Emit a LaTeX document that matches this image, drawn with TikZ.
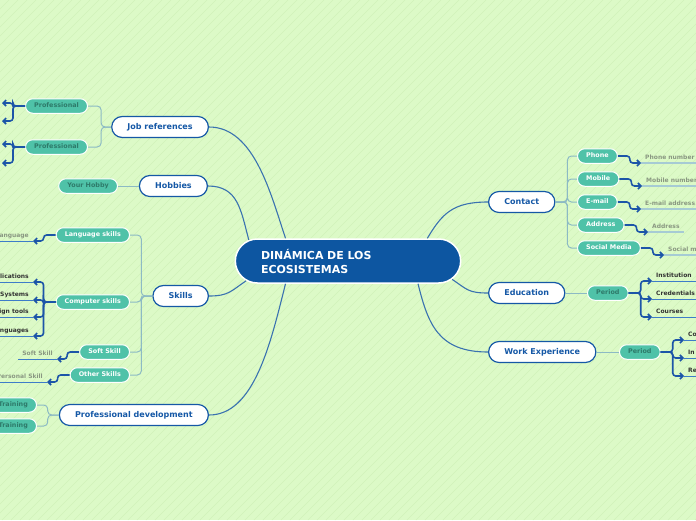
\documentclass[tikz,border=0pt]{standalone}
\usepackage{fontspec}
\setmainfont{DejaVu Sans}
\usetikzlibrary{shapes.misc,arrows.meta}

\definecolor{bggreen}{HTML}{DCFAC7}
\definecolor{stripegreen}{HTML}{D0F2BA}
\definecolor{mainblue}{HTML}{0D56A1}
\definecolor{topicblue}{HTML}{1558A6}
\definecolor{curveblue}{HTML}{3A72B0}
\definecolor{tealfill}{HTML}{4FC2A8}
\definecolor{tealtext}{HTML}{2E7A6A}
\definecolor{lightlink}{HTML}{8CBAC4}
\definecolor{arrowblue}{HTML}{1C55A8}
\definecolor{greytext}{HTML}{8A9882}
\definecolor{darktext}{HTML}{333333}
\definecolor{paleline}{HTML}{A6CBD4}
\definecolor{blueline}{HTML}{3D7CC9}

\begin{document}
\begin{tikzpicture}[
	x=1pt, y=-1pt,
	central/.style={ rounded rectangle, draw=white, line width=1.5pt, fill=mainblue, text=white, font=\fontsize{11}{14}\selectfont\bfseries, minimum width=232, minimum height=44, text width=174, align=left },
	topic/.style={ rounded rectangle, draw=topicblue, line width=1.2pt, fill=white, text=topicblue, font=\fontsize{8}{9}\selectfont\bfseries, minimum height=21, inner xsep=15, text height=6, text depth=1.6 },
	sub/.style={ rounded rectangle, draw=white, line width=1pt, fill=tealfill, text=white, font=\fontsize{6.4}{7}\selectfont\bfseries, minimum height=14.5, inner xsep=8, text height=4.8, text depth=1.3 },
	subdark/.style={ sub, text=tealtext },
	childgrey/.style={ text=greytext, font=\fontsize{6}{7}\selectfont\bfseries, inner xsep=4, inner ysep=2, text depth=1.5 },
	childdark/.style={ childgrey, text=darktext },
	rightdark/.style={ childdark, text width=40 },
	mainlink/.style={ draw=curveblue, line width=1.1pt },
	sublink/.style={ draw=lightlink, line width=1pt, rounded corners=4pt },
	leaflink/.style={ draw=arrowblue, line width=1.6pt, rounded corners=3pt, -{Straight Barb[length=3pt,width=6pt]} },
	paleunder/.style={ draw=paleline, line width=1.8pt },
	blueunder/.style={ draw=blueline, line width=1pt }
]

\useasboundingbox (0,0) rectangle (696,520);
\clip (0,0) rectangle (696,520);
\fill[bggreen] (0,0) rectangle (696,520);
\foreach \i in {0,9,...,1224} \draw[stripegreen, line width=0.6pt] (\i-520,520) -- (\i,0);

% centre and main topics
\node at (348,261) (main) [central] {DINÁMICA DE LOS\\ECOSISTEMAS};

\node at (209,127) (jobref) [topic, anchor=east] {Job references};
\node at (208,186) (hobbies) [topic, anchor=east] {Hobbies};
\node at (209,296) (skills) [topic, anchor=east] {Skills};
\node at (209,415) (profdev) [topic, anchor=east] {Professional development};
\node at (488,202) (contact) [topic, anchor=west] {Contact};
\node at (488,293) (education) [topic, anchor=west] {Education};
\node at (488,352) (work) [topic, anchor=west] {Work Experience};

\draw[mainlink] (jobref.east) .. controls +(45,0) and +(-15,-45) .. (main.160);
\draw[mainlink] (hobbies.east) .. controls +(30,0) and +(-8,-30) .. (main.168);
\draw[mainlink] (skills.east) .. controls +(20,0) and +(-15,10) .. (main.191);
\draw[mainlink] (profdev.east) .. controls +(45,0) and +(-15,60) .. (main.200);
\draw[mainlink] (contact.west) .. controls +(-35,0) and +(15,-25) .. (main.16);
\draw[mainlink] (education.west) .. controls +(-20,0) and +(15,10) .. (main.350);
\draw[mainlink] (work.west) .. controls +(-50,0) and +(10,40) .. (main.342);

% left branches
\node at (88,106) (prof1) [subdark, anchor=east] {Professional};
\node at (88,147) (prof2) [subdark, anchor=east] {Professional};
\foreach \p in {prof1,prof2} \draw[sublink] (jobref.west) -- ++(-10,0) |- (\p.east);
\coordinate (prof1a) at (2,103);
\coordinate (prof1b) at (2,121);
\coordinate (prof2a) at (2,144);
\coordinate (prof2b) at (2,163);
\foreach \c in {prof1a,prof1b} \draw[leaflink] (prof1.west) -- ++(-12,0) |- (\c);
\foreach \c in {prof2a,prof2b} \draw[leaflink] (prof2.west) -- ++(-12,0) |- (\c);

\node at (118,186) (yourhobby) [subdark, anchor=east] {Your Hobby};
\draw[sublink] (hobbies.west) -- (yourhobby.east);

\node at (130,235) (langskills) [sub, anchor=east] {Language skills};
\node at (130,302) (compskills) [sub, anchor=east] {Computer skills};
\node at (130,352) (softskill) [sub, anchor=east] {Soft Skill};
\node at (130,375) (otherskills) [sub, anchor=east] {Other Skills};
\foreach \p in {langskills,compskills,softskill,otherskills} \draw[sublink] (skills.west) -- ++(-11,0) |- (\p.east);

\node at (33,241) (language) [childgrey, anchor=south east] {anguage};
\draw[leaflink] (langskills.west) -- ++(-12,0) |- (language.south east);
\node at (33,282) (apps) [childdark, anchor=south east] {lications};
\node at (33,300) (systems) [childdark, anchor=south east] {Systems};
\node at (33,317) (design) [childdark, anchor=south east] {ign tools};
\node at (33,336) (proglang) [childdark, anchor=south east] {anguages};
\foreach \c in {apps,systems,design,proglang} \draw[leaflink] (compskills.west) -- ++(-12,0) |- (\c.south east);
\node at (57,359) (softtext) [childgrey, anchor=south east] {Soft Skill};
\draw[leaflink] (softskill.west) -- ++(-12,0) |- (softtext.south east);
\node at (47,382) (personal) [childgrey, anchor=south east] {Personal Skill};
\draw[leaflink] (otherskills.west) -- ++(-12,0) |- (personal.south east);
\foreach \c in {language,apps,systems,design,proglang,softtext,personal} \draw[blueunder] (\c.south west) -- (\c.south east);

\node at (37,405) (training1) [subdark, anchor=east] {Training};
\node at (37,426) (training2) [subdark, anchor=east] {Training};
\foreach \p in {training1,training2} \draw[sublink] (profdev.west) -- ++(-11,0) |- (\p.east);

% right branches
\node at (577,156) (phone) [sub, anchor=west] {Phone};
\node at (577,179) (mobile) [sub, anchor=west] {Mobile};
\node at (577,202) (email) [sub, anchor=west] {E-mail};
\node at (577,225) (address) [sub, anchor=west] {Address};
\node at (577,248) (social) [sub, anchor=west] {Social Media};
\foreach \p in {phone,mobile,email,address,social} \draw[sublink] (contact.east) -- ++(12,0) |- (\p.west);

\node at (641,163) (phonenum) [childgrey, anchor=south west] {Phone number};
\node at (642,186) (mobilenum) [childgrey, anchor=south west] {Mobile number};
\node at (641,209) (emailaddr) [childgrey, anchor=south west] {E-mail address};
\node at (648,232) (addr) [childgrey, anchor=south west] {Address};
\node at (664,255) (socialtext) [childgrey, anchor=south west] {Social me};
\draw[leaflink] (phone.east) -- ++(12,0) |- (phonenum.south west);
\draw[leaflink] (mobile.east) -- ++(12,0) |- (mobilenum.south west);
\draw[leaflink] (email.east) -- ++(12,0) |- (emailaddr.south west);
\draw[leaflink] (address.east) -- ++(12,0) |- (addr.south west);
\draw[leaflink] (social.east) -- ++(12,0) |- (socialtext.south west);
\foreach \c in {phonenum,mobilenum,emailaddr,addr,socialtext} \draw[paleunder] (\c.south west) -- (\c.south east);

\node at (587,293) (eduperiod) [subdark, anchor=west] {Period};
\draw[sublink] (education.east) -- (eduperiod.west);
\node at (652,281) (inst) [rightdark, anchor=south west] {Institution};
\node at (652,299) (cred) [rightdark, anchor=south west] {Credentials};
\node at (652,317) (courses) [rightdark, anchor=south west] {Courses};
\foreach \c in {inst,cred,courses} \draw[leaflink] (eduperiod.east) -- ++(12,0) |- (\c.south west);

\node at (619,352) (workperiod) [subdark, anchor=west] {Period};
\draw[sublink] (work.east) -- (workperiod.west);
\node at (684,340) (wcomp) [rightdark, anchor=south west] {Co};
\node at (684,358) (wind) [rightdark, anchor=south west] {In};
\node at (684,376) (wresp) [rightdark, anchor=south west] {Re};
\foreach \c in {wcomp,wind,wresp} \draw[leaflink] (workperiod.east) -- ++(12,0) |- (\c.south west);
\foreach \c in {inst,cred,courses,wcomp,wind,wresp} \draw[blueunder] (\c.south west) -- (\c.south east);

\end{tikzpicture}
\end{document}
